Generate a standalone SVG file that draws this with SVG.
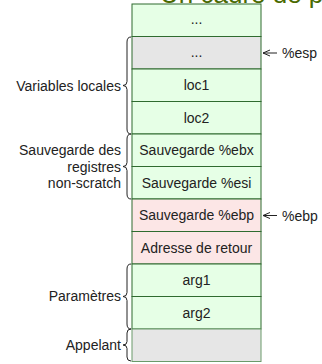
<svg xmlns="http://www.w3.org/2000/svg" width="322" height="364" viewBox="0 0 322 364">
<style>
text{font-family:"Liberation Sans",Arial,sans-serif;font-size:14px;fill:#222}
.c{text-anchor:middle}
.r{text-anchor:end}
.g{fill:#e6ffe6;stroke:#2f6b2f;stroke-width:1}
.p{fill:#fce6e6;stroke:#2f6b2f;stroke-width:1}
.y{fill:#e6e6e6;stroke:#2f6b2f;stroke-width:1}
.b{fill:none;stroke:#222;stroke-width:1}
</style>
<defs>
<marker id="ah" viewBox="0 0 8 8" refX="7" refY="4" markerWidth="8" markerHeight="8" orient="auto" markerUnits="userSpaceOnUse">
<path d="M0,1 L7,4 L0,7" fill="none" stroke="#222" stroke-width="1"/>
</marker>
</defs>
<text x="160" y="3" style="font-size:26px;fill:#4a6a00">Un cadre de pile</text>
<g id="row0"><rect class="g" x="132" y="4" width="129" height="32.5"/><text class="c" x="196.5" y="24">...</text></g>
<g id="row1"><rect class="y" x="132" y="36.5" width="129" height="32.5"/><text class="c" x="196.5" y="57">...</text></g>
<g id="loc1"><rect class="g" x="132" y="69" width="129" height="32.5"/><text class="c" x="196.5" y="90">loc1</text></g>
<g id="loc2"><rect class="g" x="132" y="101.5" width="129" height="32.5"/><text class="c" x="196.5" y="122.5">loc2</text></g>
<g id="ebx"><rect class="g" x="132" y="134" width="129" height="32.5"/><text class="c" x="196.5" y="155">Sauvegarde %ebx</text></g>
<g id="esi"><rect class="g" x="132" y="166.5" width="129" height="32.5"/><text class="c" x="196.5" y="187.5">Sauvegarde %esi</text></g>
<g id="ebp"><rect class="p" x="132" y="199" width="129" height="32.5"/><text class="c" x="196.5" y="220">Sauvegarde %ebp</text></g>
<g id="ret"><rect class="p" x="132" y="231.5" width="129" height="32.5"/><text class="c" x="196.5" y="252.5">Adresse de retour</text></g>
<g id="arg1"><rect class="g" x="132" y="264" width="129" height="32.5"/><text class="c" x="196.5" y="285">arg1</text></g>
<g id="arg2"><rect class="g" x="132" y="296.5" width="129" height="32.5"/><text class="c" x="196.5" y="317.5">arg2</text></g>
<g id="appelant"><rect class="y" x="132" y="329" width="129" height="32.5" style="stroke:#6a9a6a"/></g>
<g id="connectors">
<line class="b" x1="277" y1="53" x2="263" y2="53" marker-end="url(#ah)"/>
<line class="b" x1="277" y1="215.5" x2="263" y2="215.5" marker-end="url(#ah)"/>
<path class="b" d="M131,37 Q127,37 127,42 L127,81.5 Q127,85.5 123,85.5 Q127,85.5 127,89.5 L127,129 Q127,134 131,134"/>
<path class="b" d="M131,134 Q127,134 127,139 L127,162.5 Q127,166.5 123,166.5 Q127,166.5 127,170.5 L127,194 Q127,199 131,199"/>
<path class="b" d="M131,264 Q127,264 127,269 L127,292.5 Q127,296.5 123,296.5 Q127,296.5 127,300.5 L127,324 Q127,329 131,329"/>
<path class="b" d="M131,329 Q127,329 127,333 L127,341.5 Q127,345 123,345 Q127,345 127,348.5 L127,357 Q127,361 131,361"/>
</g>
<g id="labels">
<text x="282" y="58">%esp</text>
<text x="282" y="220.5">%ebp</text>
<text class="r" x="121" y="90.5">Variables locales</text>
<text class="r" x="121" y="155">Sauvegarde des</text>
<text class="r" x="121" y="171.5">registres</text>
<text class="r" x="121" y="188">non-scratch</text>
<text class="r" x="121" y="301">Paramètres</text>
<text class="r" x="121" y="350">Appelant</text>
</g>
</svg>
